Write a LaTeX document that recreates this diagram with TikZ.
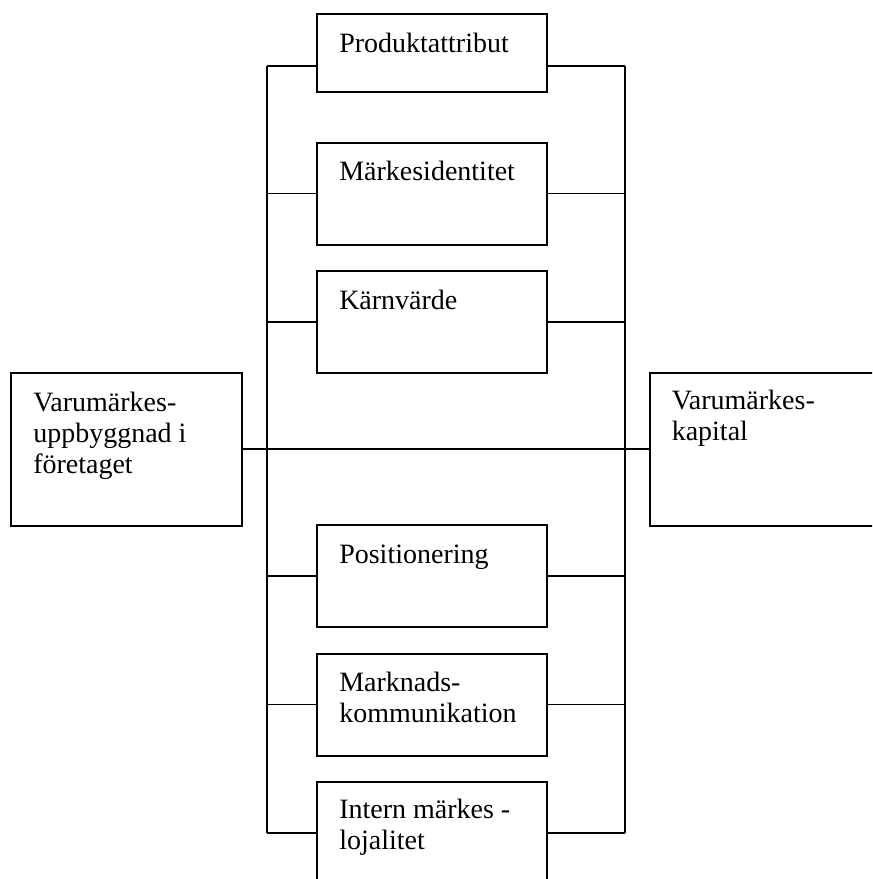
\documentclass[tikz,border=0pt]{standalone}
\usepackage{fontspec}
\setmainfont{Liberation Serif}
\newfontfamily\tnrfont{Liberation Serif}
\begin{document}
\begin{tikzpicture}[x=0.75pt,y=-0.75pt,
  box/.style={draw,line width=1.5pt,rectangle,inner sep=0pt,outer sep=0pt,anchor=north west,minimum width=172.5pt},
  txt/.style={anchor=base west,align=left,inner sep=0pt,font=\tnrfont\fontsize{21}{23.25}\selectfont},
  wire/.style={line width=1.4pt}]
\useasboundingbox (0,0) rectangle (872,879);
\clip (0,0) rectangle (872,879);
% centre column boxes
\node[box,minimum height=58.5pt] (b1) at (317,14) {};
\node[box,minimum height=76.5pt] (b2) at (317,142.5) {};
\node[box,minimum height=76.5pt] (b3) at (317,271) {};
\node[box,minimum height=76.5pt] (b4) at (317,525) {};
\node[box,minimum height=76.5pt] (b5) at (317,653.5) {};
\node[box,minimum height=76.5pt] (b6) at (317,782) {};
% side boxes
\node[box,minimum width=173.25pt,minimum height=114.75pt] (L) at (10.5,372.5) {};
\node[box,minimum width=173.25pt,minimum height=114.75pt] (R) at (649.5,372.5) {};
% texts (base anchor = baseline of last line)
\node[txt] (t1) at (339,52) {Produktattribut};
\node[txt] (t2) at (339,180.5) {Märkesidentitet};
\node[txt] (t3) at (339,309) {Kärnvärde};
\node[txt] (t4) at (339,563) {Positionering};
\node[txt] (t5) at (339,722.5) {Marknads-\\kommunikation};
\node[txt] (t6) at (339,849.5) {Intern märkes -\\lojalitet};
\node[txt] (tL) at (33,473.5) {Varumärkes-\\uppbyggnad i\\företaget};
\node[txt] (tR) at (671.5,440.5) {Varumärkes-\\kapital};
% buses
\coordinate (Ltop) at (267,66);
\coordinate (Rtop) at (625,66);
\coordinate (Lbot) at (b6.west -| Ltop);
\coordinate (Rbot) at (b6.east -| Rtop);
\draw[wire] (Ltop) -- (Lbot);
\draw[wire] (Rtop) -- (Rbot);
% stubs
\draw[wire] (Ltop) -- (b1.west |- Ltop);
\draw[wire] (b1.east |- Rtop) -- (Rtop);
\foreach \b in {b2,b3,b4,b5,b6}{
  \draw[wire] (\b.west -| Ltop) -- (\b.west);
  \draw[wire] (\b.east) -- (\b.east -| Rtop);
}
% main line
\draw[wire] (L.east) -- (R.west);
\end{tikzpicture}
\end{document}
